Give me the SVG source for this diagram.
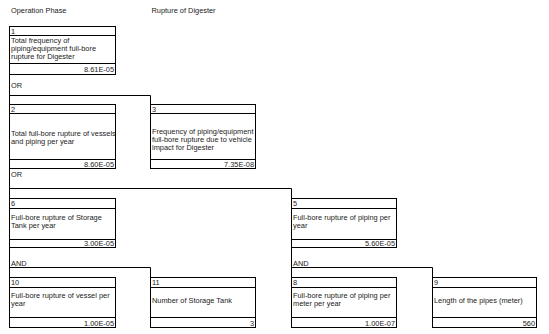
<svg xmlns="http://www.w3.org/2000/svg" width="549" height="334" viewBox="0 0 549 334">
<style>
text{font-family:"Liberation Sans",Arial,sans-serif;font-size:7.4px;fill:#222}
.v{text-anchor:end}
.b{fill:#fff;stroke:#000;stroke-width:1}
.d{stroke:#000;stroke-width:1;fill:none}
.c{stroke:#000;stroke-width:1;fill:none}
</style>
<rect width="549" height="334" fill="#fff"/>
<text x="11" y="12.5">Operation Phase</text>
<text x="151.5" y="12.5">Rupture of Digester</text>
<g id="connectors">
<path class="c" d="M9.5 74.5V104.5M9.5 95.5H150.5V104.5"/>
<path class="c" d="M9.5 168.5V198.5M9.5 188.5H291.5V198.5"/>
<path class="c" d="M9.5 247.5V277.5M9.5 267.5H150.5V277.5"/>
<path class="c" d="M291.5 247.5V277.5M291.5 267.5H432.5V277.5"/>
<text x="11" y="87.5">OR</text>
<text x="11" y="176.5">OR</text>
<text x="11" y="265.5">AND</text>
<text x="293" y="265.5">AND</text>
</g>
<g id="n1">
<rect class="b" x="9.5" y="26.5" width="106" height="48"/>
<path class="d" d="M9.5 35.5H115.5M9.5 63.5H115.5"/>
<text x="11" y="33.5">1</text>
<text x="11" y="42.5">Total frequency of</text>
<text x="11" y="50.5">piping/equipment full-bore</text>
<text x="11" y="58.5">rupture for Digester</text>
<text class="v" x="114" y="72">8.61E-05</text>
</g>
<g id="n2">
<rect class="b" x="9.5" y="104.5" width="106" height="64"/>
<path class="d" d="M9.5 113.5H115.5M9.5 159.5H115.5"/>
<text x="11" y="111.5">2</text>
<text x="11" y="135.5">Total full-bore rupture of vessels</text>
<text x="11" y="143.5">and piping per year</text>
<text class="v" x="114" y="166.5">8.60E-05</text>
</g>
<g id="n3">
<rect class="b" x="150.5" y="104.5" width="105" height="64"/>
<path class="d" d="M150.5 113.5H255.5M150.5 159.5H255.5"/>
<text x="152" y="111.5">3</text>
<text x="152" y="133.5">Frequency of piping/equipment</text>
<text x="152" y="141.5">full-bore rupture due to vehicle</text>
<text x="152" y="149.5">impact for Digester</text>
<text class="v" x="254" y="166.5">7.35E-08</text>
</g>
<g id="n6">
<rect class="b" x="9.5" y="198.5" width="106" height="49"/>
<path class="d" d="M9.5 208.5H115.5M9.5 239.5H115.5"/>
<text x="11" y="206">6</text>
<text x="11" y="219.5">Full-bore rupture of Storage</text>
<text x="11" y="227.5">Tank per year</text>
<text class="v" x="114" y="246">3.00E-05</text>
</g>
<g id="n5">
<rect class="b" x="291.5" y="198.5" width="105" height="49"/>
<path class="d" d="M291.5 208.5H396.5M291.5 239.5H396.5"/>
<text x="293" y="206">5</text>
<text x="293" y="219.5">Full-bore rupture of piping per</text>
<text x="293" y="227.5">year</text>
<text class="v" x="395" y="246">5.60E-05</text>
</g>
<g id="n10">
<rect class="b" x="9.5" y="277.5" width="106" height="50"/>
<path class="d" d="M9.5 287.5H115.5M9.5 317.5H115.5"/>
<text x="11" y="285">10</text>
<text x="11" y="298">Full-bore rupture of vessel per</text>
<text x="11" y="306">year</text>
<text class="v" x="114" y="325.5">1.00E-05</text>
</g>
<g id="n11">
<rect class="b" x="150.5" y="277.5" width="105" height="50"/>
<path class="d" d="M150.5 287.5H255.5M150.5 317.5H255.5"/>
<text x="152" y="285">11</text>
<text x="152" y="302.5">Number of Storage Tank</text>
<text class="v" x="254" y="325.5">3</text>
</g>
<g id="n8">
<rect class="b" x="291.5" y="277.5" width="105" height="50"/>
<path class="d" d="M291.5 287.5H396.5M291.5 317.5H396.5"/>
<text x="293" y="285">8</text>
<text x="293" y="298">Full-bore rupture of piping per</text>
<text x="293" y="306">meter per year</text>
<text class="v" x="395" y="325.5">1.00E-07</text>
</g>
<g id="n9">
<rect class="b" x="432.5" y="277.5" width="104" height="50"/>
<path class="d" d="M432.5 287.5H536.5M432.5 317.5H536.5"/>
<text x="434" y="285">9</text>
<text x="434" y="302.5">Length of the pipes (meter)</text>
<text class="v" x="535" y="325.5">560</text>
</g>
</svg>
